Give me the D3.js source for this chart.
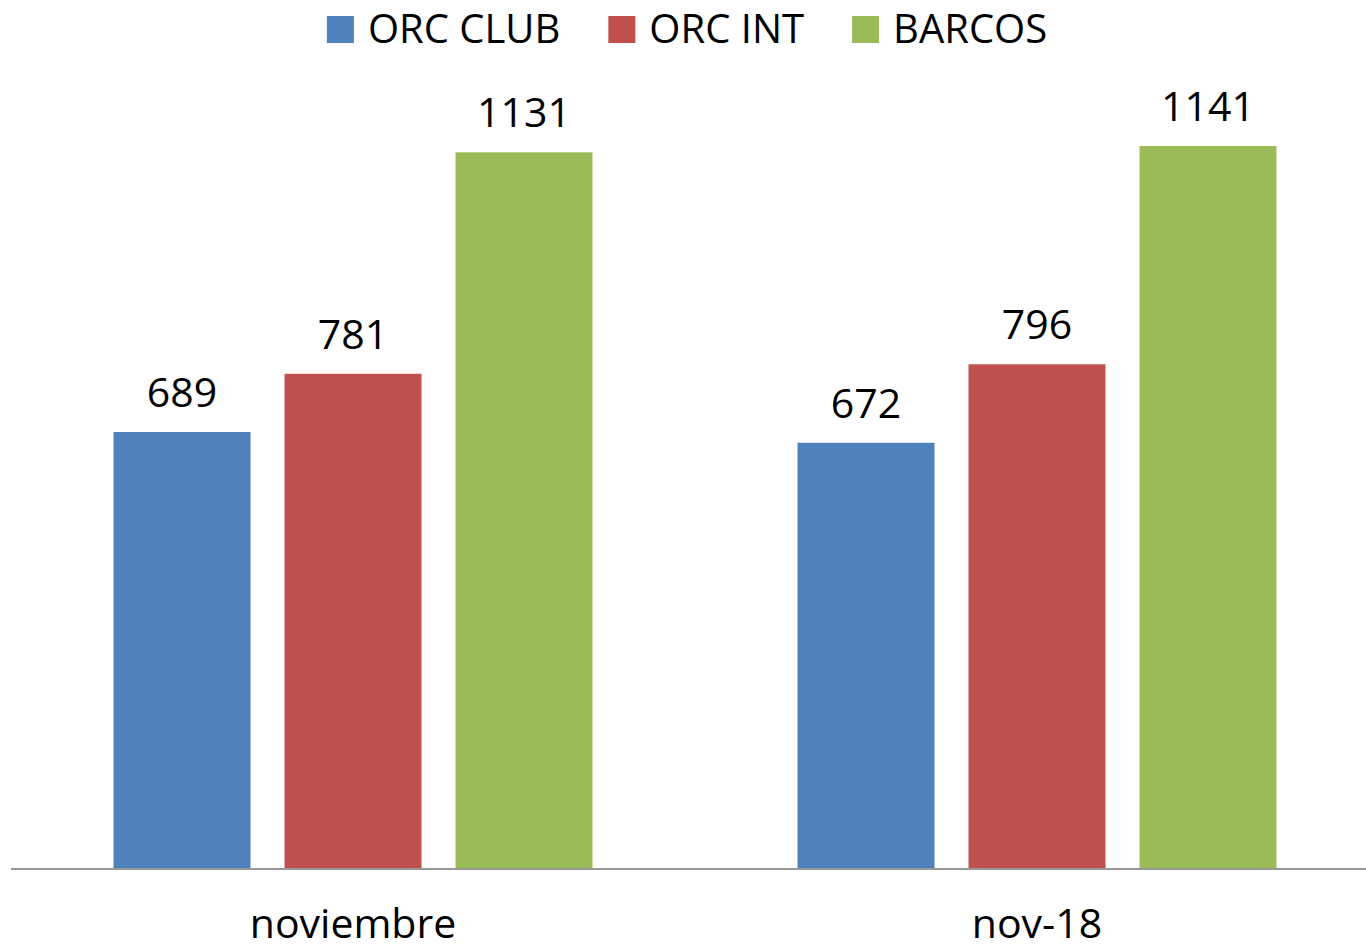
<!DOCTYPE html>
<html>
<head>
<meta charset="utf-8">
<script src="https://cdn.jsdelivr.net/npm/d3@7"></script>
<style>
  body { margin: 0; background: #fff; }
  text { font-family: 'Open Sans', sans-serif; fill: #000; }
</style>
</head>
<body>
<svg id="chart" width="1366" height="951"></svg>
<script>
const categories = ['noviembre', 'nov-18'];
const series = ['ORC CLUB', 'ORC INT', 'BARCOS'];
const colors = ['#4f81bd', '#c0504d', '#9bbb59'];
const orcClub = [689, 672];
const orcInt = [781, 796];
const barcos = [1131, 1141];

const values = [orcClub, orcInt, barcos];
const data = categories.map((c, i) => ({
  category: c,
  bars: series.map((s, j) => ({ key: s, value: values[j][i] })),
}));

const svg = d3.select('#chart');
const width = +svg.attr('width');
const baseline = 868;

const x0 = d3.scaleBand().domain(categories).range([11, 1379]);
const x1 = d3
  .scaleBand()
  .domain(series)
  .range([102.5, 581.5])
  .paddingInner(34 / 171);

const y = d3
  .scaleLinear()
  .domain([0, 1200])
  .range([baseline, baseline - 1200 * 0.6328]);

const color = d3.scaleOrdinal().domain(series).range(colors);

const groups = svg
  .selectAll('.group')
  .data(data)
  .enter()
  .append('g')
  .classed('group', true)
  .attr('transform', d => 'translate(' + x0(d.category) + ',0)');

groups
  .selectAll('rect')
  .data(d => d.bars)
  .enter()
  .append('rect')
  .attr('x', d => x1(d.key))
  .attr('width', x1.bandwidth())
  .attr('y', d => y(d.value))
  .attr('height', d => y(0) - y(d.value))
  .attr('fill', d => color(d.key));

groups
  .selectAll('.label')
  .data(d => d.bars)
  .enter()
  .append('text')
  .classed('label', true)
  .attr('x', d => x1(d.key) + x1.bandwidth() / 2)
  .attr('y', d => y(d.value) - 25)
  .style('text-anchor', 'middle')
  .style('font-size', '41px')
  .text(d => d.value);

// category axis
svg
  .append('line')
  .attr('x1', 11)
  .attr('x2', width)
  .attr('y1', baseline + 1)
  .attr('y2', baseline + 1)
  .attr('stroke', '#999')
  .attr('stroke-width', 2);

svg
  .selectAll('.cat')
  .data(categories)
  .enter()
  .append('text')
  .classed('cat', true)
  .attr('x', d => x0(d) + x0.bandwidth() / 2)
  .attr('y', 938)
  .style('text-anchor', 'middle')
  .style('font-size', '41px')
  .text(d => d);

// legend
const legend = svg.append('g');
let lx = 0;
series.forEach((s, i) => {
  const item = legend.append('g').attr('transform', 'translate(' + lx + ',0)');
  item
    .append('rect')
    .attr('x', 0)
    .attr('y', 16)
    .attr('width', 27)
    .attr('height', 27)
    .attr('fill', color(s));
  const t = item
    .append('text')
    .attr('x', 41)
    .attr('y', 43)
    .style('font-size', '40px')
    .text(s);
  lx += 41 + t.node().getComputedTextLength() + 48;
});
const legendWidth = lx - 48;
legend.attr('transform', 'translate(' + (687 - legendWidth / 2) + ',0)');
</script>
</body>
</html>
